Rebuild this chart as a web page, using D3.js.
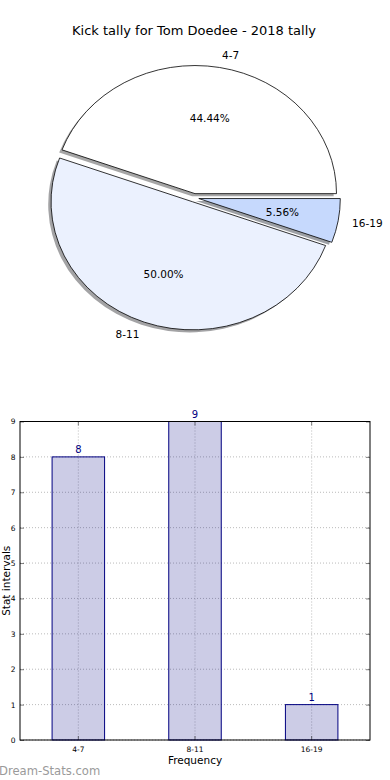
<!DOCTYPE html>
<html>
<head>
<meta charset="utf-8">
<script src="https://cdn.jsdelivr.net/npm/d3@7"></script>
<style>
  html, body { margin: 0; padding: 0; background: #fff; }
  svg { display: block; font-family: "DejaVu Sans", sans-serif; }
</style>
</head>
<body>
<svg id="chart" width="390" height="780"></svg>
<script>
// ---- data ----
const title = "Kick tally for Tom Doedee - 2018 tally";
const categories = ["4-7", "8-11", "16-19"];
const counts = [8, 9, 1];
const pieColors = ["#ffffff", "#ebf1fe", "#c6d9fd"];
const yTicks = [0, 1, 2, 3, 4, 5, 6, 7, 8, 9];
const xLabel = "Frequency";
const yLabel = "Stat intervals";
const watermark = "Dream-Stats.com";

const svg = d3.select("#chart");
svg.append("rect").attr("width", 390).attr("height", 780).attr("fill", "#fff");

// ---- title ----
svg.append("text")
  .attr("x", 194).attr("y", 30)
  .attr("text-anchor", "middle").attr("dominant-baseline", "central")
  .attr("font-size", 13).attr("fill", "#000")
  .text(title);

// ---- pie ----
const pcx = 194.2, pcy = 197.8, prx = 141.5, pry = 128;
const explode = 0.033;
const total = d3.sum(counts);
const pie = d3.pie().sort(null).value(d => d)
  .startAngle(Math.PI / 2).endAngle(Math.PI / 2 - 2 * Math.PI);
const arcs = pie(counts);
const arcGen = d3.arc().innerRadius(0).outerRadius(1);

const pieG = svg.append("g").attr("transform", `translate(${pcx},${pcy})`);

function dir(a) {
  const m = (a.startAngle + a.endAngle) / 2;
  return [Math.sin(m), -Math.cos(m)];
}
function shadowColor(c) {
  const col = d3.rgb(c);
  return `rgba(${Math.round(col.r * 0.3)},${Math.round(col.g * 0.3)},${Math.round(col.b * 0.3)},0.5)`;
}

// shadows first
arcs.forEach((a, i) => {
  const [dx, dy] = dir(a);
  const ox = dx * explode * prx - 0.02 * prx;
  const oy = dy * explode * pry + 0.02 * pry;
  pieG.append("path")
    .attr("d", arcGen(a))
    .attr("transform", `translate(${ox},${oy}) scale(${prx},${pry})`)
    .attr("fill", shadowColor(pieColors[i]))
    .attr("stroke", "none");
});
arcs.forEach((a, i) => {
  const [dx, dy] = dir(a);
  const ox = dx * explode * prx;
  const oy = dy * explode * pry;
  pieG.append("path")
    .attr("d", arcGen(a))
    .attr("transform", `translate(${ox},${oy}) scale(${prx},${pry})`)
    .attr("fill", pieColors[i])
    .attr("stroke", "#000")
    .attr("stroke-width", 0.8)
    .attr("stroke-linejoin", "miter")
    .attr("vector-effect", "non-scaling-stroke");
});
arcs.forEach((a, i) => {
  const [dx, dy] = dir(a);
  const ox = dx * explode * prx;
  const oy = dy * explode * pry;
  pieG.append("text")
    .attr("x", ox + dx * 1.1 * prx).attr("y", oy + dy * 1.1 * pry)
    .attr("text-anchor", dx > 0 ? "start" : "end")
    .attr("dominant-baseline", "central")
    .attr("font-size", 10.5).attr("fill", "#000")
    .text(categories[i]);
  pieG.append("text")
    .attr("x", ox + dx * 0.6 * prx).attr("y", oy + dy * 0.6 * pry)
    .attr("text-anchor", "middle")
    .attr("dominant-baseline", "central")
    .attr("font-size", 10.5).attr("fill", "#000")
    .text((counts[i] / total * 100).toFixed(2) + "%");
});

// ---- bar chart ----
const bL = 20, bR = 370, bT = 421.5, bB = 740;
const x = d3.scaleBand().domain(categories).range([bL, bR])
  .paddingInner(0.55).paddingOuter(0.275);
const y = d3.scaleLinear().domain([0, 9]).range([bB, bT]);

const gridG = svg.append("g");
yTicks.forEach(t => {
  gridG.append("line")
    .attr("x1", bL).attr("x2", bR).attr("y1", y(t)).attr("y2", y(t))
    .attr("stroke", "#a8a8a8").attr("stroke-width", 0.8).attr("stroke-dasharray", "1,2");
});
categories.forEach(c => {
  const xc = x(c) + x.bandwidth() / 2;
  gridG.append("line")
    .attr("x1", xc).attr("x2", xc).attr("y1", bT).attr("y2", bB)
    .attr("stroke", "#a8a8a8").attr("stroke-width", 0.8).attr("stroke-dasharray", "1,2");
});

svg.append("g").selectAll("rect").data(counts).join("rect")
  .attr("x", (d, i) => x(categories[i]))
  .attr("y", d => y(d))
  .attr("width", x.bandwidth())
  .attr("height", d => y(0) - y(d))
  .attr("fill", "rgba(0,0,128,0.2)")
  .attr("stroke", "#000080").attr("stroke-width", 1);

svg.append("g").selectAll("text").data(counts).join("text")
  .attr("x", (d, i) => x(categories[i]) + x.bandwidth() / 2)
  .attr("y", d => y(d) - 4)
  .attr("text-anchor", "middle")
  .attr("font-size", 10).attr("fill", "#000080")
  .text(d => d);

// frame
svg.append("rect")
  .attr("x", bL).attr("y", bT).attr("width", bR - bL).attr("height", bB - bT)
  .attr("fill", "none").attr("stroke", "#000").attr("stroke-width", 1);

// axes (ticks inward)
const yAxisL = d3.axisLeft(y).tickValues(yTicks).tickSizeInner(-4).tickSizeOuter(0).tickPadding(4.5);
const gyl = svg.append("g").attr("transform", `translate(${bL},0)`).call(yAxisL);
gyl.select(".domain").remove();
gyl.selectAll("text").attr("font-size", 7.5).attr("font-family", "DejaVu Sans").attr("fill", "#000");
gyl.selectAll("line").attr("stroke", "#000").attr("stroke-width", 0.5);

const yAxisR = d3.axisRight(y).tickValues(yTicks).tickSizeInner(-4).tickSizeOuter(0).tickFormat("");
const gyr = svg.append("g").attr("transform", `translate(${bR},0)`).call(yAxisR);
gyr.select(".domain").remove();
gyr.selectAll("line").attr("stroke", "#000").attr("stroke-width", 0.5);

const xAxisB = d3.axisBottom(x).tickSizeInner(-4).tickSizeOuter(0).tickPadding(7);
const gxb = svg.append("g").attr("transform", `translate(0,${bB})`).call(xAxisB);
gxb.select(".domain").remove();
gxb.selectAll("text").attr("font-size", 7.5).attr("font-family", "DejaVu Sans").attr("fill", "#000");
gxb.selectAll("line").attr("stroke", "#000").attr("stroke-width", 0.5);

const xAxisT = d3.axisTop(x).tickSizeInner(-4).tickSizeOuter(0).tickFormat("");
const gxt = svg.append("g").attr("transform", `translate(0,${bT})`).call(xAxisT);
gxt.select(".domain").remove();
gxt.selectAll("line").attr("stroke", "#000").attr("stroke-width", 0.5);

// axis labels
svg.append("text")
  .attr("x", (bL + bR) / 2).attr("y", 760)
  .attr("text-anchor", "middle").attr("dominant-baseline", "central")
  .attr("font-size", 10.5).attr("fill", "#000")
  .text(xLabel);
svg.append("text")
  .attr("transform", `translate(5.5,${(bT + bB) / 2}) rotate(-90)`)
  .attr("text-anchor", "middle").attr("dominant-baseline", "central")
  .attr("font-size", 10.5).attr("fill", "#000")
  .text(yLabel);

// watermark
svg.append("text")
  .attr("x", -1).attr("y", 771)
  .attr("dominant-baseline", "central")
  .attr("font-size", 11.6).attr("fill", "#9a9a9a")
  .text(watermark);
</script>
</body>
</html>
